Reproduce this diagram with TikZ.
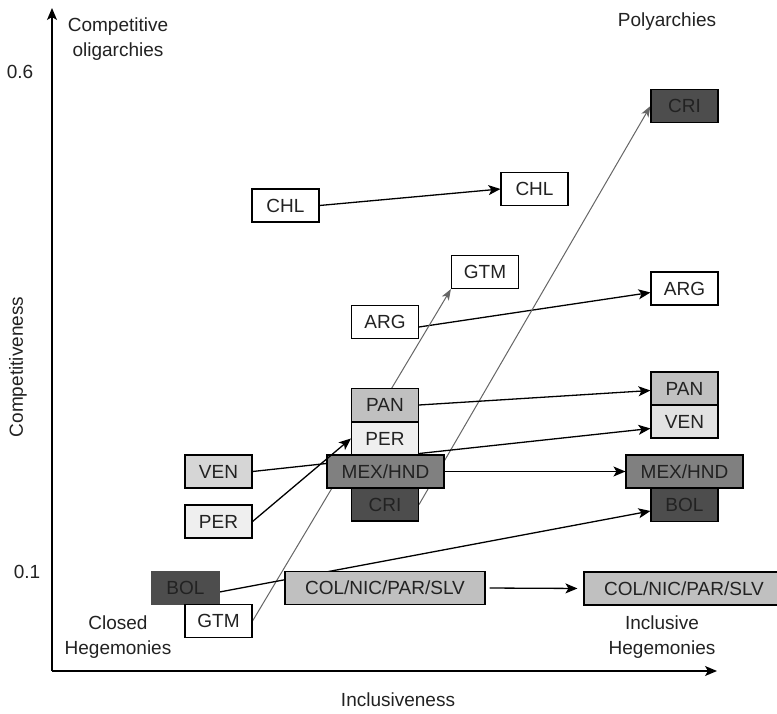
\documentclass[tikz,border=0pt]{standalone}
\usepackage{fontspec}
\setmainfont{Liberation Sans}
\usetikzlibrary{arrows.meta,backgrounds}
\definecolor{cdark}{HTML}{4D4D4D}
\definecolor{cmid}{HTML}{808080}
\definecolor{clight}{HTML}{C0C0C0}
\definecolor{cven}{HTML}{D6D6D6}
\definecolor{cpale}{HTML}{EFEFEF}
\definecolor{ctxt}{HTML}{222222}
\definecolor{cgline}{HTML}{666666}
\begin{document}
\begin{tikzpicture}[x=1pt,y=-1pt,
  box/.style={draw=black,line width=1.1pt,minimum width=67pt,minimum height=33pt,inner sep=0pt,
    font=\fontsize{19}{22}\selectfont,text=ctxt},
  wide/.style={minimum width=117pt},
  widest/.style={minimum width=200pt},
  lab/.style={font=\fontsize{19}{25}\selectfont,align=center,text=ctxt,inner sep=0pt},
  axis/.style={line width=1.3pt,-{Stealth[length=12pt,width=10pt,inset=3pt]}},
  conn/.style={line width=1.3pt,black,-{Stealth[length=12pt,width=10pt,inset=3pt]}},
  gconn/.style={line width=1pt,cgline,-{Stealth[length=11pt,width=8pt,inset=3pt]}}]
\useasboundingbox (0,0) rectangle (777,714);

% axes
\coordinate (O) at (52,671);
\coordinate (Ytop) at (52,8);
\coordinate (Xend) at (717,671);
\draw[axis] (O) -- (Ytop);
\draw[axis] (O) -- (Xend);

% labels
\node[lab] (lcomp) at (118,39.5) {Competitive\\oligarchies};
\node[lab] (l06) at (20,72) {0.6};
\node[lab] (l01) at (27,572) {0.1};
\node[lab,rotate=90] (lyax) at (18,367) {Competitiveness};
\node[lab] (lclosed) at (118,637.5) {Closed\\Hegemonies};
\node[lab] (lincl) at (398,700) {Inclusiveness};
\node[lab] (lpoly) at (667,22) {Polyarchies};
\node[lab] (linclh) at (662,637.5) {Inclusive\\Hegemonies};

% boxes
\node[box,fill=white] (chlA) at (285.5,205.5) {CHL};
\node[box,fill=white] (chlB) at (534.5,189) {CHL};
\node[box,fill=cdark] (criT) at (684.5,106) {CRI};
\node[box,fill=white] (gtmT) at (485,272) {GTM};
\node[box,fill=white] (argR) at (684.5,288.5) {ARG};
\node[box,fill=white] (argL) at (385,322) {ARG};
\node[box,fill=clight] (panC) at (385,405) {PAN};
\node[box,fill=cpale] (perC) at (385,438.5) {PER};
\node[box,fill=cdark] (criC) at (385,504.5) {CRI};
\node[box,wide,fill=cmid] (mexC) at (385.5,471.5) {MEX/HND};
\node[box,fill=cven] (venL) at (218.5,471.5) {VEN};
\node[box,fill=cpale] (perL) at (218.5,521.5) {PER};
\node[box,fill=cdark,draw=cdark] (bolL) at (185.5,588) {BOL};
\node[box,fill=white] (gtmL) at (218.5,621) {GTM};
\node[box,widest,fill=clight] (colL) at (385,588) {COL/NIC/PAR/SLV};
\node[box,fill=clight] (panR) at (684.5,388.5) {PAN};
\node[box,fill=cven!70!white] (venR) at (684.5,421.5) {VEN};
\node[box,fill=cdark] (bolR) at (684.5,505) {BOL};
\node[box,wide,fill=cmid] (mexR) at (684.5,471.5) {MEX/HND};
\node[box,widest,fill=clight] (colR) at (684,588.5) {COL/NIC/PAR/SLV};

% connectors behind boxes
\begin{pgfonlayer}{background}
\fill[white] (0,0) rectangle (777,714);
\draw[conn] (chlA.east) -- (chlB.west);
\draw[conn] ([yshift=-5pt]argL.east) -- ([yshift=-4pt]argR.west);
\draw[gconn] (gtmL.east) -- (gtmT.south west);
\draw[gconn] (criC.east) -- (criT.west);
\draw[conn] (venL.east) -- ([yshift=-7pt]venR.west);
\draw[conn] (panC.east) -- ([yshift=-2pt]panR.west);
\draw[conn] (mexC.east) -- (mexR.west);
\draw[conn] ([yshift=-4pt]bolL.east) -- ([yshift=-6pt]bolR.west);
\draw[conn,shorten <=4pt,shorten >=6pt] (colL.east) -- (colR.west);
\end{pgfonlayer}

% connector drawn over the boxes
\draw[conn] (perL.east) -- (perC.west);
\end{tikzpicture}
\end{document}
